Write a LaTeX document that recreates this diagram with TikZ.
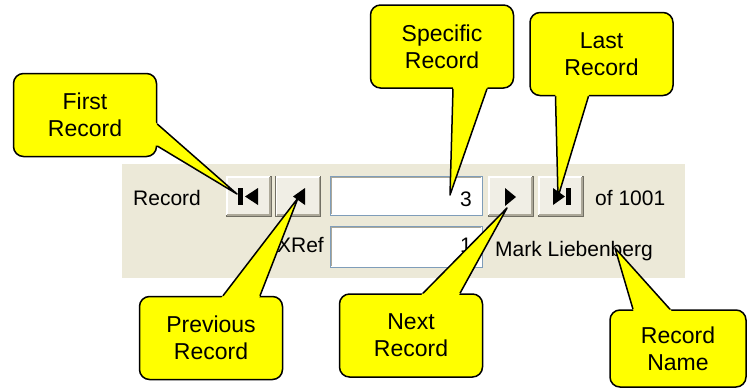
\documentclass[tikz,border=0pt]{standalone}
\usepackage{fontspec}
\setmainfont{Liberation Sans}
\usetikzlibrary{calc}

\definecolor{panel}{HTML}{ECE9D8}
\definecolor{face}{HTML}{F0EEE5}
\definecolor{shade}{HTML}{716F64}
\definecolor{inset}{HTML}{ACA899}
\definecolor{fieldblue}{HTML}{7F9DB9}
\definecolor{callyellow}{HTML}{FFFF00}

\tikzset{
  callbox/.style={draw, line width=1.5pt, fill=callyellow, rounded corners=10pt,
    minimum width=143pt, minimum height=83pt, align=center, inner sep=0pt,
    font=\fontsize{23}{27}\selectfont},
  btn/.style={draw=shade, fill=face, line width=1pt, minimum width=45pt,
    minimum height=40pt, inner sep=0pt},
  field/.style={draw=fieldblue, fill=white, line width=1pt, minimum width=152pt,
    minimum height=39pt, inner sep=0pt},
  gui/.style={font=\fontsize{21}{25}\selectfont, inner sep=0pt}
}

\newcommand{\calltail}[3]{%
  \fill[callyellow] ($(#1)!-0.05!(#3)$) -- (#3) -- ($(#2)!-0.05!(#3)$) -- cycle;
  \draw[line width=1.5pt, line join=round] (#1) -- (#3) -- (#2);}

\begin{document}
\begin{tikzpicture}[x=1pt,y=-1pt]
\useasboundingbox (0,0) rectangle (748,389);

\fill[panel] (122,164) rectangle (685,278);

\node[btn] (bfirst) at (248.5,196) {};
\node[btn] (bprev) at (298,196) {};
\node[btn] (bnext) at (510.5,196) {};
\node[btn] (blast) at (560.5,196) {};

\foreach \b in {bfirst,bprev,bnext,blast} {
  \draw[white, line width=1.5pt] ([shift={(1.5pt,1.5pt)}]\b.south west) |- ([shift={(-1.5pt,-1.5pt)}]\b.north east);
  \draw[inset, line width=1.5pt] ([shift={(1.5pt,1.5pt)}]\b.south west) -| ([shift={(-1.5pt,-1.5pt)}]\b.north east);
}

\fill (238,188) rectangle (243,205);
\fill (258,188) -- (245,196.5) -- (258,205) -- cycle;
\fill (305,188) -- (293,196.5) -- (305,205) -- cycle;
\fill (505,188) -- (516,197) -- (505,206) -- cycle;
\fill (553,188) -- (565,196.5) -- (553,205) -- cycle;
\fill (566,188) rectangle (571,205);

\node[field] (fspec) at (406,195.5) {};
\node[field, minimum height=41pt] (fxref) at (406,246.5) {};

\foreach \f in {fspec,fxref} {
  \draw[inset, line width=1.5pt] ([shift={(2pt,2pt)}]\f.south west) |- ([shift={(-2pt,-2pt)}]\f.north east);
}

\node[gui, anchor=base west] (reclabel) at (133,205) {Record};
\node[gui, anchor=base east] (num) at (472,206) {3};
\node[gui, anchor=base west] (oftotal) at (595,205) {of 1001};
\node[gui, anchor=base east] (xreflabel) at (324,252) {XRef};
\node[gui, anchor=base east] (xnum) at (472,252) {1};
\node[gui, anchor=base west] (recname) at (495,256) {Mark Liebenberg};

\node[callbox] (cfirst) at (85,115) {First\\Record};
\node[callbox] (cspec) at (442,46.5) {Specific\\Record};
\node[callbox] (clast) at (601.5,54) {Last\\Record};
\node[callbox] (cprev) at (211,338) {Previous\\Record};
\node[callbox] (cnext) at (411,335.5) {Next\\Record};
\node[callbox, minimum width=136pt, minimum height=77pt] (cname) at (678,348.5) {Record\\Name};

\coordinate (tfirst) at (237,194);
\coordinate (tspec) at (450,195);
\coordinate (tlast) at (558,197);
\coordinate (tprev) at (298,198);
\coordinate (tnext) at (507,208);
\coordinate (tname) at (615,248);

\coordinate (cfirst-a) at ($(cfirst.east)+(0,9)$);
\coordinate (cfirst-b) at ($(cfirst.east)+(0,31)$);
\coordinate (cspec-a) at ($(cspec.south)+(11,0)$);
\coordinate (cspec-b) at ($(cspec.south)+(45,0)$);
\coordinate (clast-a) at ($(clast.south)+(-46,0)$);
\coordinate (clast-b) at ($(clast.south)+(-13,0)$);
\coordinate (cprev-a) at ($(cprev.north)+(12,0)$);
\coordinate (cprev-b) at ($(cprev.north)+(49,0)$);
\coordinate (cnext-a) at ($(cnext.north)+(12,0)$);
\coordinate (cnext-b) at ($(cnext.north)+(49,0)$);
\coordinate (cname-a) at ($(cname.north)+(-45,0)$);
\coordinate (cname-b) at ($(cname.north)+(-8,0)$);

\calltail{cfirst-a}{cfirst-b}{tfirst}
\calltail{cspec-a}{cspec-b}{tspec}
\calltail{clast-a}{clast-b}{tlast}
\calltail{cprev-a}{cprev-b}{tprev}
\calltail{cnext-a}{cnext-b}{tnext}
\calltail{cname-a}{cname-b}{tname}

\end{tikzpicture}
\end{document}
